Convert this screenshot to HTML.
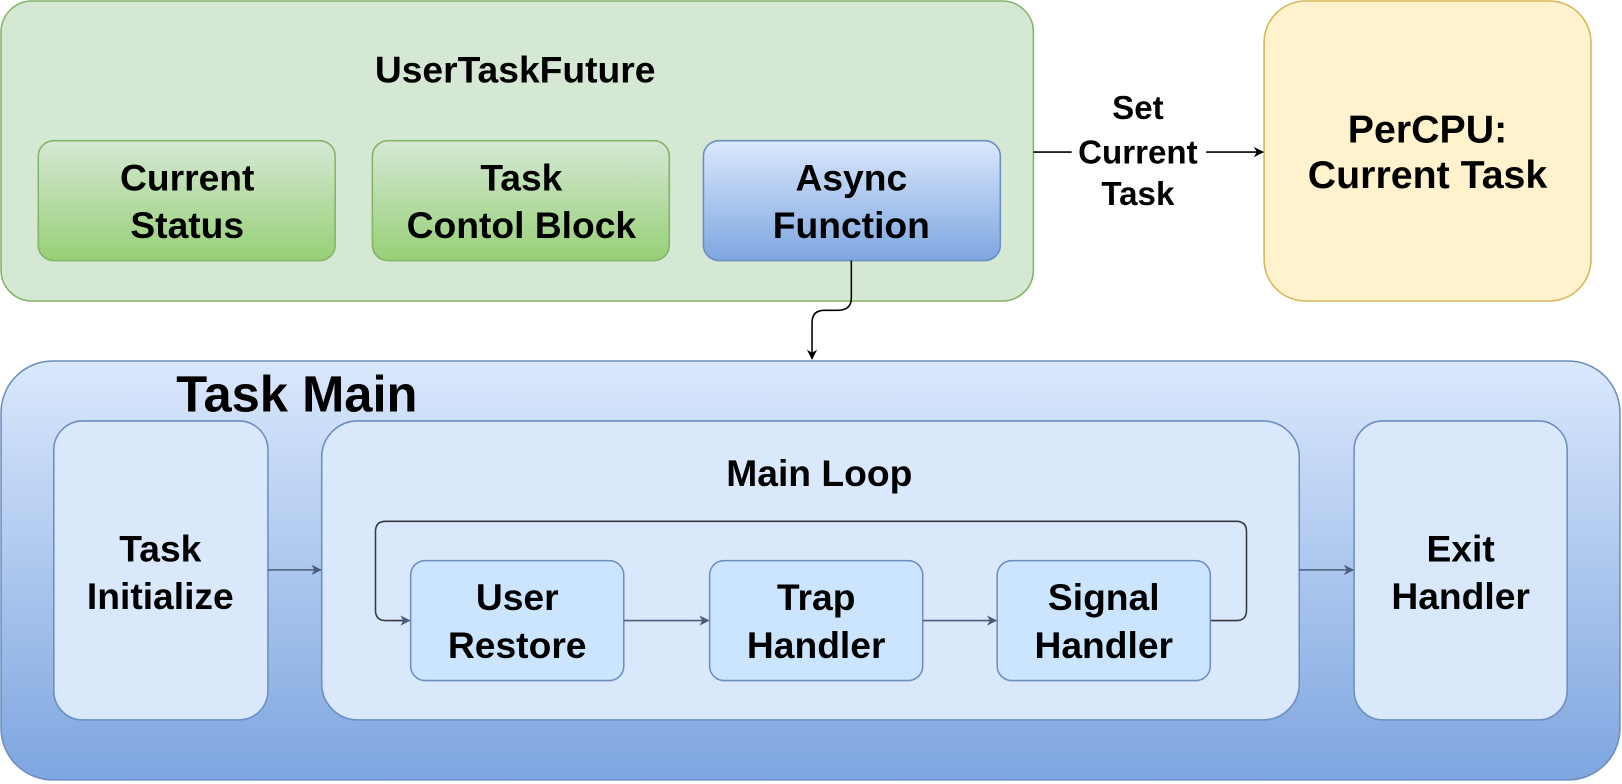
<!DOCTYPE html>
<html><head><meta charset="utf-8"><style>
html,body{margin:0;padding:0;background:#fff;width:1622px;height:784px;overflow:hidden;}
svg{display:block;position:absolute;left:0;top:0}
text{font-family:"Liberation Sans",Arial,sans-serif;font-weight:bold;fill:#000;text-anchor:middle}
</style></head><body>
<svg width="1622" height="784" viewBox="0 0 1568 758" preserveAspectRatio="none" xmlns="http://www.w3.org/2000/svg">
<defs>
<linearGradient id="g" x1="0" y1="0" x2="0" y2="1"><stop offset="0" stop-color="#d5e8d4"/><stop offset="1" stop-color="#97d077"/></linearGradient>
<linearGradient id="b" x1="0" y1="0" x2="0" y2="1"><stop offset="0" stop-color="#dae8fc"/><stop offset="1" stop-color="#7ea6e0"/></linearGradient>
<marker id="ak" markerWidth="10" markerHeight="10" refX="9" refY="5" orient="auto" markerUnits="userSpaceOnUse"><path d="M0,0 L10,5 L0,10 L3,5 Z" fill="#000"/></marker>
<marker id="as" markerWidth="10" markerHeight="10" refX="9" refY="5" orient="auto" markerUnits="userSpaceOnUse"><path d="M0,0 L10,5 L0,10 L3,5 Z" fill="#4a5a7a"/></marker>
</defs>
<rect x="1" y="1" width="998" height="290" rx="30" fill="#d5e8d4" stroke="#82b366" stroke-width="1.5"/>
<text x="498" y="80" font-size="36">UserTaskFuture</text>
<rect x="37" y="136" width="287" height="116" rx="15" fill="url(#g)" stroke="#82b366" stroke-width="1.5"/>
<text x="181" y="184" font-size="36">Current</text><text x="181" y="230" font-size="36">Status</text>
<rect x="360" y="136" width="287" height="116" rx="15" fill="url(#g)" stroke="#82b366" stroke-width="1.5"/>
<text x="504" y="184" font-size="36">Task</text><text x="504" y="230" font-size="36">Contol Block</text>
<rect x="680" y="136" width="287" height="116" rx="15" fill="url(#b)" stroke="#6c8ebf" stroke-width="1.5"/>
<text x="823" y="184" font-size="36">Async</text><text x="823" y="230" font-size="36">Function</text>
<rect x="1222" y="1" width="316" height="290" rx="40" fill="#fff2cc" stroke="#d6b656" stroke-width="1.5"/>
<text x="1380" y="138" font-size="38">PerCPU:</text><text x="1380" y="182" font-size="38">Current Task</text>
<line x1="999" y1="147" x2="1221" y2="147" stroke="#000" stroke-width="1.5" marker-end="url(#ak)"/>
<rect x="1036" y="128" width="130" height="38" fill="#fff"/>
<text x="1100" y="115" font-size="32">Set</text><text x="1100" y="158" font-size="32">Current</text><text x="1100" y="198" font-size="32">Task</text>
<path d="M823,252 V288 Q823,300 810,300 H797 Q785,300 785,312 V347" fill="none" stroke="#000" stroke-width="1.5" marker-end="url(#ak)"/>
<rect x="1" y="349" width="1565" height="405" rx="50" fill="url(#b)" stroke="#6c8ebf" stroke-width="1.5"/>
<text x="287" y="398" font-size="49">Task Main</text>
<rect x="52" y="407" width="207" height="289" rx="28" fill="#dae8fc" stroke="#6c8ebf" stroke-width="1.5"/>
<text x="155" y="543" font-size="36">Task</text><text x="155" y="589" font-size="36">Initialize</text>
<rect x="311" y="407" width="945" height="289" rx="35" fill="#dae8fc" stroke="#6c8ebf" stroke-width="1.5"/>
<text x="792" y="470" font-size="36">Main Loop</text>
<rect x="1309" y="407" width="206" height="289" rx="28" fill="#dae8fc" stroke="#6c8ebf" stroke-width="1.5"/>
<text x="1412" y="543" font-size="36">Exit</text><text x="1412" y="589" font-size="36">Handler</text>
<line x1="259" y1="551" x2="310" y2="551" stroke="#4a5a7a" stroke-width="1.5" marker-end="url(#as)"/>
<line x1="1256" y1="551" x2="1308" y2="551" stroke="#4a5a7a" stroke-width="1.5" marker-end="url(#as)"/>
<path d="M1170,600 H1195 Q1205,600 1205,590 V514 Q1205,504 1195,504 H373 Q363,504 363,514 V590 Q363,600 373,600 H396" fill="none" stroke="#36393d" stroke-width="1.5" marker-end="url(#as)"/>
<rect x="397" y="542" width="206" height="116" rx="14" fill="#cce5ff" stroke="#6c8ebf" stroke-width="1.5"/>
<text x="500" y="590" font-size="36">User</text><text x="500" y="636" font-size="36">Restore</text>
<rect x="686" y="542" width="206" height="116" rx="14" fill="#cce5ff" stroke="#6c8ebf" stroke-width="1.5"/>
<text x="789" y="590" font-size="36">Trap</text><text x="789" y="636" font-size="36">Handler</text>
<rect x="964" y="542" width="206" height="116" rx="14" fill="#cce5ff" stroke="#6c8ebf" stroke-width="1.5"/>
<text x="1067" y="590" font-size="36">Signal</text><text x="1067" y="636" font-size="36">Handler</text>
<line x1="603" y1="600" x2="685" y2="600" stroke="#4a5a7a" stroke-width="1.5" marker-end="url(#as)"/>
<line x1="892" y1="600" x2="963" y2="600" stroke="#4a5a7a" stroke-width="1.5" marker-end="url(#as)"/>
</svg>
</body></html>
